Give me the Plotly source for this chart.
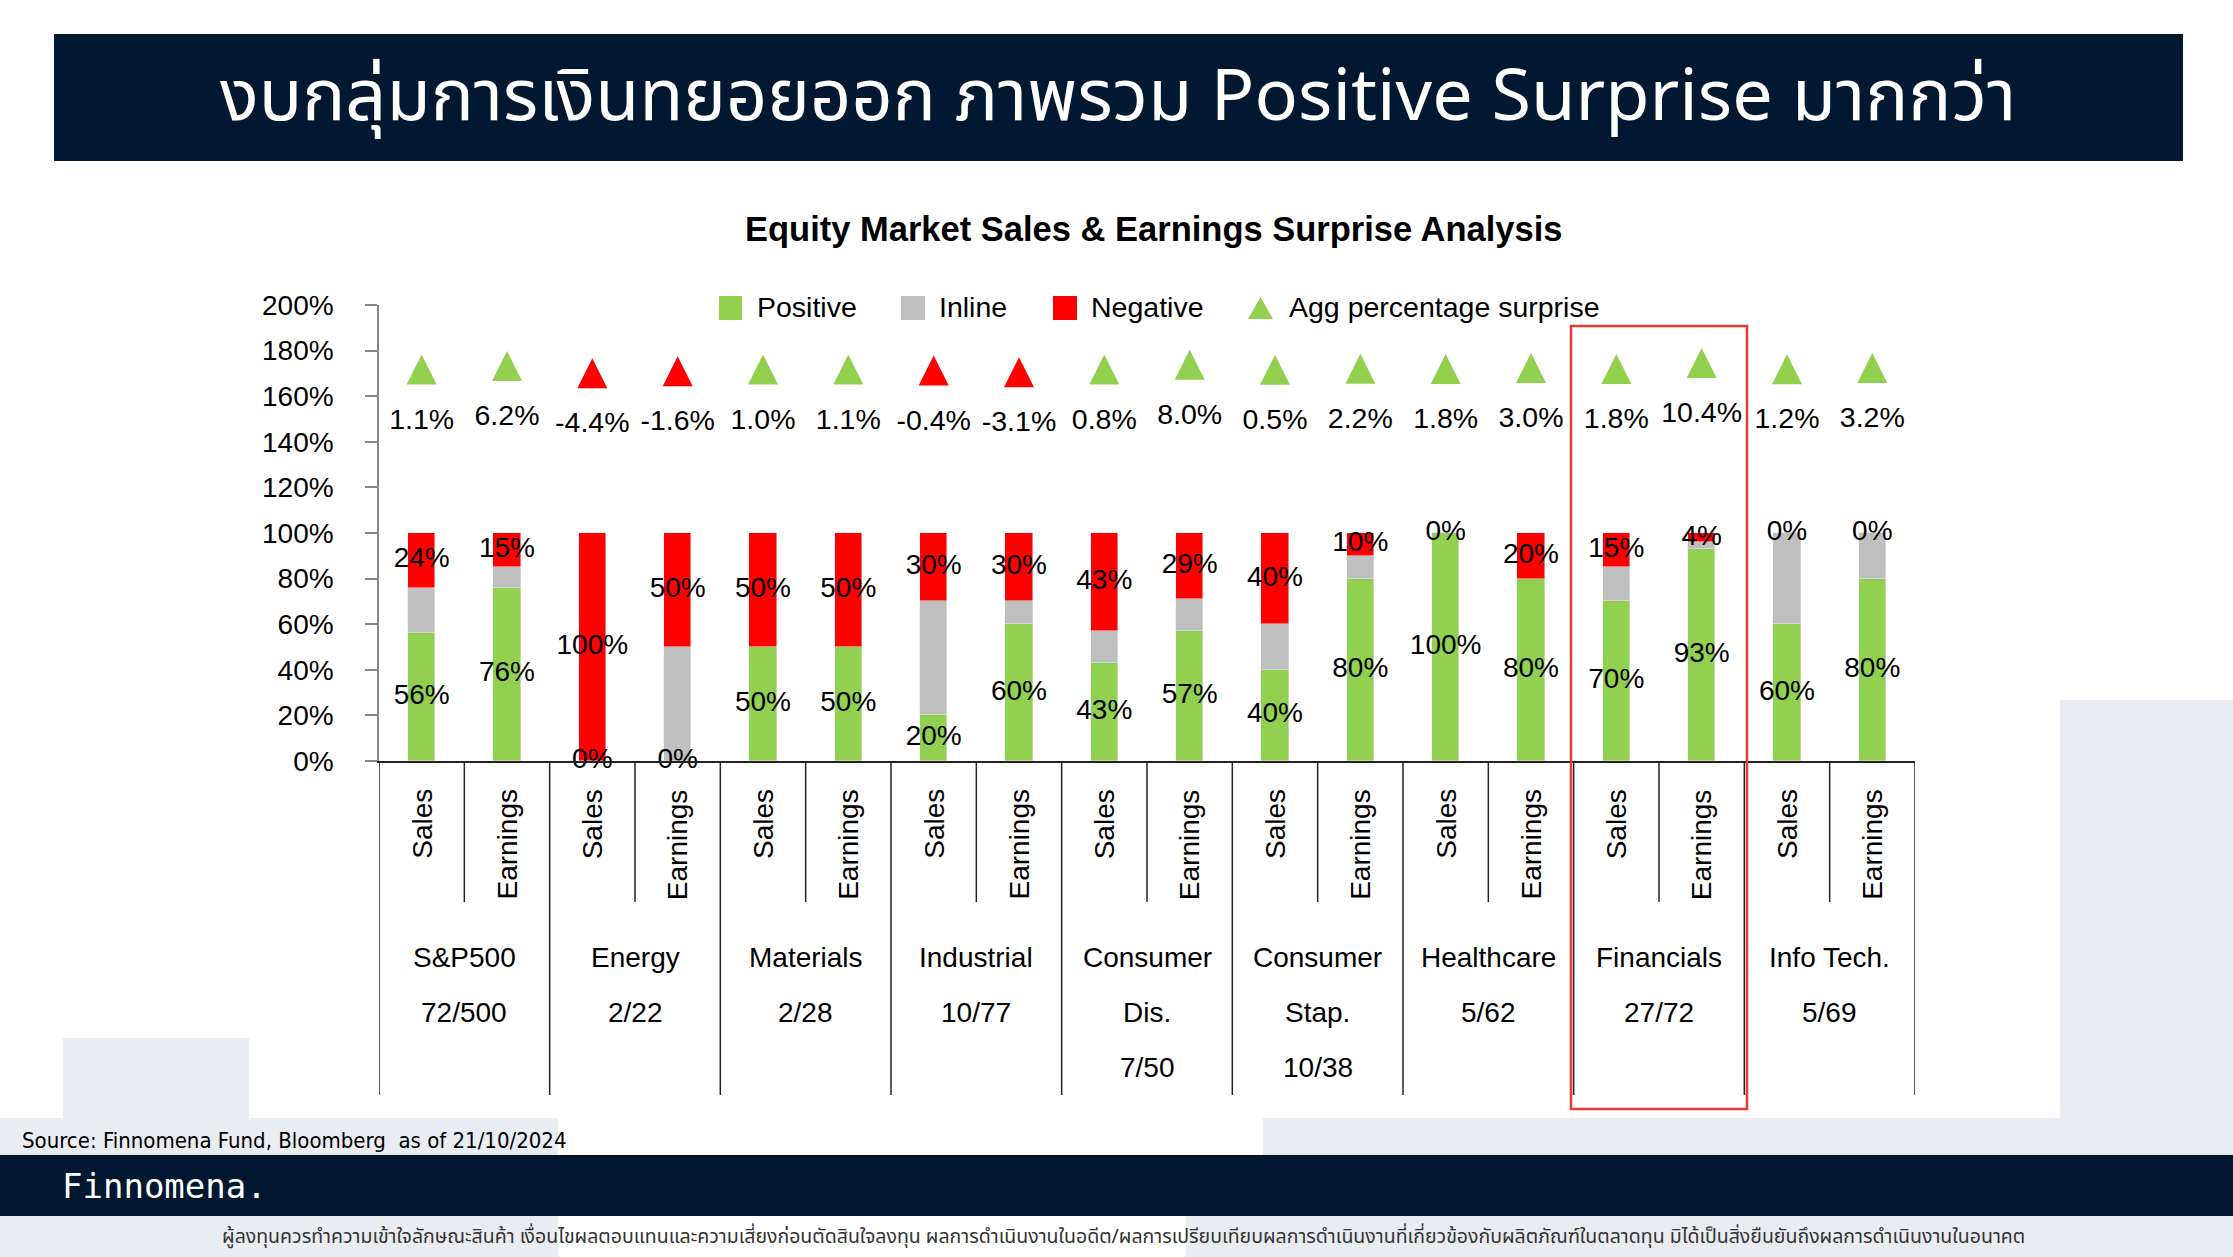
import plotly.graph_objects as go

# ---------------- data ----------------
sub_labels = ["Sales", "Earnings"] * 9
group_lines = [
    ["S&P500", "72/500"],
    ["Energy", "2/22"],
    ["Materials", "2/28"],
    ["Industrial", "10/77"],
    ["Consumer", "Dis.", "7/50"],
    ["Consumer", "Stap.", "10/38"],
    ["Healthcare", "5/62"],
    ["Financials", "27/72"],
    ["Info Tech.", "5/69"],
]
positive = [56, 76, 0, 0, 50, 50, 20, 60, 43, 57, 40, 80, 100, 80, 70, 93, 60, 80]
inline = [20, 9, 0, 50, 0, 0, 50, 10, 14, 14, 20, 10, 0, 0, 15, 3, 40, 20]
negative = [24, 15, 100, 50, 50, 50, 30, 30, 43, 29, 40, 10, 0, 20, 15, 4, 0, 0]
agg_surprise = [1.1, 6.2, -4.4, -1.6, 1.0, 1.1, -0.4, -3.1, 0.8, 8.0, 0.5, 2.2, 1.8, 3.0, 1.8, 10.4, 1.2, 3.2]
y_ticks = [0, 20, 40, 60, 80, 100, 120, 140, 160, 180, 200]
y_tick_text = [f"{v}%" for v in y_ticks]

title_text = "งบกลุ่มการเงินทยอยออก ภาพรวม Positive Surprise มากกว่า"
chart_title = "Equity Market Sales & Earnings Surprise Analysis"
source_text = "Source: Finnomena Fund, Bloomberg  as of 21/10/2024"
disclaimer = ("ผู้ลงทุนควรทำความเข้าใจลักษณะสินค้า เงื่อนไขผลตอบแทนและความเสี่ยงก่อนตัดสินใจลงทุน "
              "ผลการดำเนินงานในอดีต/ผลการเปรียบเทียบผลการดำเนินงานที่เกี่ยวข้องกับผลิตภัณฑ์ในตลาดทุน "
              "มิได้เป็นสิ่งยืนยันถึงผลการดำเนินงานในอนาคต")

# ---------------- style ----------------
GREEN = "#92D050"
GRAY = "#BFBFBF"
RED = "#FF0000"
NAVY = "#011830"
LIGHT = "#E9EDF1"
FONT = "Liberation Sans, Arial, sans-serif"
THAI = "Noto Sans Thai, Loma, Garuda, Tlwg Typist, Noto Sans, Liberation Sans, sans-serif"

W, H = 2233, 1257
L, R, T, B = 379, 1915, 305, 761


def px(x):
    return (x - L) / (R - L)


def py(y):
    return (B - y) / (B - T)


n = len(positive)
xs = list(range(n))

fig = go.Figure()
fig.add_trace(go.Bar(x=xs, y=positive, marker_color=GREEN, width=0.32, name="Positive", showlegend=False, hoverinfo="skip"))
fig.add_trace(go.Bar(x=xs, y=inline, marker_color=GRAY, width=0.32, name="Inline", showlegend=False, hoverinfo="skip"))
fig.add_trace(go.Bar(x=xs, y=negative, marker_color=RED, width=0.32, name="Negative", showlegend=False, hoverinfo="skip"))

# segment labels
pos_y = [p / 2 for p in positive]
neg_y = [p + i + ng / 2 for p, i, ng in zip(positive, inline, negative)]
fig.add_trace(go.Scatter(x=xs, y=pos_y, mode="text", text=[f"{v}%" for v in positive],
                         textfont=dict(size=28, color="black", family=FONT), textposition="middle center",
                         cliponaxis=False, showlegend=False, hoverinfo="skip"))
fig.add_trace(go.Scatter(x=xs, y=neg_y, mode="text", text=[f"{v}%" for v in negative],
                         textfont=dict(size=28, color="black", family=FONT), textposition="middle center",
                         cliponaxis=False, showlegend=False, hoverinfo="skip"))

# aggregate surprise triangles + labels
tri_y = [178 + 0.3 * v for v in agg_surprise]
lab_y = [148.6 + 0.3 * v for v in agg_surprise]
fig.add_trace(go.Scatter(x=xs, y=tri_y, mode="markers",
                         marker=dict(symbol="arrow-up", size=30,
                                     color=[GREEN if v >= 0 else RED for v in agg_surprise],
                                     line=dict(width=0)),
                         cliponaxis=False, showlegend=False, hoverinfo="skip"))
fig.add_trace(go.Scatter(x=xs, y=lab_y, mode="text", text=[f"{v:.1f}%" for v in agg_surprise],
                         textfont=dict(size=28.5, color="black", family=FONT), textposition="middle center",
                         cliponaxis=False, showlegend=False, hoverinfo="skip"))

shapes = []


def rect(x0, y0, x1, y1, color, layer="below"):
    shapes.append(dict(type="rect", xref="paper", yref="paper", x0=px(x0), x1=px(x1), y0=py(y1), y1=py(y0),
                       fillcolor=color, line=dict(width=0), layer=layer))


# background decorations
rect(63, 1038, 249, 1118, LIGHT)
rect(2060, 700, 2233, 1155, LIGHT)
rect(0, 1118, 558, 1155, LIGHT)
rect(1263, 1118, 2233, 1155, LIGHT)
rect(0, 1155, 2233, 1216, NAVY)
rect(0, 1216, 558, 1257, LIGHT)
rect(1186, 1216, 2233, 1257, LIGHT)
rect(54, 34, 2183, 161, NAVY)

# category dividers
for k in range(10):
    shapes.append(dict(type="line", xref="x", yref="paper", x0=2 * k - 0.5, x1=2 * k - 0.5,
                       y0=0, y1=py(1095), line=dict(color="#222222", width=1.5)))
for k in range(9):
    shapes.append(dict(type="line", xref="x", yref="paper", x0=2 * k + 0.5, x1=2 * k + 0.5,
                       y0=0, y1=py(902), line=dict(color="#222222", width=1.5)))

# highlight box
shapes.append(dict(type="rect", xref="paper", yref="paper", x0=px(1571), x1=px(1747), y0=py(1109), y1=py(326),
                   line=dict(color="#E53935", width=2.5), fillcolor="rgba(0,0,0,0)", layer="above"))

# legend symbols
rect(719, 296, 742, 320, GREEN, "above")
rect(901, 296, 925, 320, GRAY, "above")
rect(1053, 296, 1077, 320, RED, "above")
shapes.append(dict(type="path", xref="paper", yref="paper",
                   path=f"M {px(1248)},{py(319)} L {px(1273)},{py(319)} L {px(1260.5)},{py(297)} Z",
                   fillcolor=GREEN, line=dict(width=0), layer="above"))

annotations = []


def ann(text, x, y, size, color="black", family=FONT, xanchor="center", yanchor="middle", angle=0,
        xref="paper", yref="paper"):
    annotations.append(dict(text=text, x=x, y=y, xref=xref, yref=yref, showarrow=False,
                            xanchor=xanchor, yanchor=yanchor, textangle=angle,
                            font=dict(size=size, color=color, family=family)))


ann(title_text, px(1118), py(98), 72, "white", THAI)
ann(f"<b>{chart_title}</b>", px(1153), py(229), 34.5)
ann("Positive", px(755), py(307), 28.5, xanchor="left")
ann("Inline", px(937), py(307), 28.5, xanchor="left")
ann("Negative", px(1089), py(307), 28.5, xanchor="left")
ann("Agg percentage surprise", px(1287), py(307), 28.5, xanchor="left")

for i, s in enumerate(sub_labels):
    ann(s, i, py(787), 28, yanchor="top", angle=-90, xref="x")

for k, lines in enumerate(group_lines):
    for j, line in enumerate(lines):
        ann(line, 2 * k + 0.5, py(957 + 55 * j), 28, xref="x")

ann(source_text, px(20), py(1140), 22, family="Liberation Sans Narrow, DejaVu Sans Condensed, Arial Narrow, sans-serif",
    xanchor="left")
ann("Finnomena.", px(60), py(1186), 34, "white", "DejaVu Sans Mono, Liberation Mono, monospace", xanchor="left")
ann(disclaimer, px(1123), py(1237), 19.5, "#333333", THAI)

fig.update_layout(
    width=W, height=H,
    margin=dict(l=L, r=W - R, t=T, b=H - B, pad=0),
    paper_bgcolor="white", plot_bgcolor="rgba(0,0,0,0)",
    barmode="stack", bargap=0,
    showlegend=False,
    shapes=shapes, annotations=annotations,
    font=dict(family=FONT, color="black"),
)
fig.update_xaxes(range=[-0.5, n - 0.5], showticklabels=False, ticks="", showgrid=False, zeroline=False,
                 showline=True, linecolor="#222222", linewidth=2, fixedrange=True)
fig.update_yaxes(range=[0, 200], tickvals=y_ticks, ticktext=y_tick_text, ticks="outside", ticklen=12,
                 tickcolor="#888888", tickwidth=1.5, showgrid=False, zeroline=False,
                 showline=True, linecolor="#888888", linewidth=1.5, ticklabelstandoff=26,
                 tickfont=dict(size=28, color="black", family=FONT), fixedrange=True)

fig.write_html("out.html", config={"displayModeBar": False},
               post_script="document.body.style.margin='0';document.body.style.overflow='hidden';")
